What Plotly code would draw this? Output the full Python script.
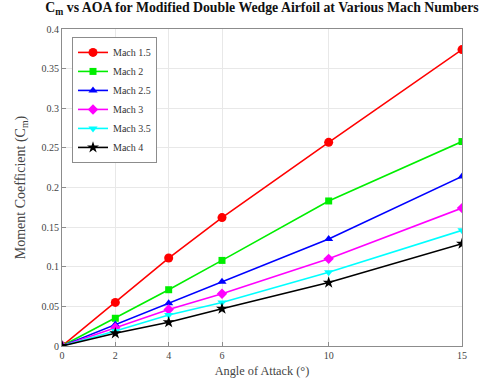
import plotly.graph_objects as go

# Angle of attack (degrees)
aoa = [0, 2, 4, 6, 10, 15]

# Moment coefficient per Mach number
cm_m15 = [0, 0.055, 0.111, 0.162, 0.257, 0.374]
cm_m20 = [0, 0.035, 0.071, 0.108, 0.183, 0.258]
cm_m25 = [0, 0.027, 0.054, 0.081, 0.135, 0.214]
cm_m30 = [0, 0.023, 0.046, 0.066, 0.110, 0.174]
cm_m35 = [0, 0.019, 0.039, 0.055, 0.093, 0.146]
cm_m40 = [0, 0.016, 0.030, 0.047, 0.080, 0.129]

series_names = ["Mach 1.5", "Mach 2", "Mach 2.5", "Mach 3", "Mach 3.5", "Mach 4"]
series_values = [cm_m15, cm_m20, cm_m25, cm_m30, cm_m35, cm_m40]
colors = ["#ff0000", "#00ee00", "#0000ff", "#ff00ff", "#00ffff", "#000000"]
symbols = ["circle", "square", "triangle-up", "diamond", "triangle-down", "star"]
sizes = [9, 7, 8, 8, 8, 9]

y_ticks = [0, 0.05, 0.1, 0.15, 0.2, 0.25, 0.3, 0.35, 0.4]
y_tick_text = ["0", "0.05", "0.1", "0.15", "0.2", "0.25", "0.3", "0.35", "0.4"]

FONT = "Liberation Serif, Times New Roman, serif"

fig = go.Figure()
for name, vals, col, sym, sz in zip(series_names, series_values, colors, symbols, sizes):
    fig.add_trace(go.Scatter(
        x=aoa, y=vals, name=name, mode="lines+markers",
        line=dict(color=col, width=1.6),
        marker=dict(symbol=sym, size=sz, color=col),
    ))

axis_common = dict(
    showline=True, linecolor="#8c8c8c", linewidth=1, mirror=True,
    showgrid=True, gridcolor="#e8e8e8", gridwidth=1,
    ticks="inside", ticklen=4, tickcolor="#8c8c8c",
    zeroline=False, automargin=False,
    tickfont=dict(family=FONT, size=10, color="#444444"),
)

fig.update_layout(
    width=479, height=385,
    margin=dict(l=62, r=17, t=29, b=39, autoexpand=False),
    paper_bgcolor="white", plot_bgcolor="white",
    font=dict(family=FONT, color="#222222"),
    title=dict(
        text="<b>C<sub>m</sub> vs AOA for Modified Double Wedge Airfoil at Various Mach Numbers</b>",
        font=dict(family=FONT, size=13.8, color="#111111"),
        x=0.547, xanchor="center", y=0.993, yanchor="top",
    ),
    xaxis=dict(
        range=[0, 15], tickvals=aoa, ticktext=[str(a) for a in aoa],
        title=dict(text="Angle of Attack (°)", font=dict(family=FONT, size=12.3, color="#444444"), standoff=6),
        **axis_common,
    ),
    yaxis=dict(
        range=[0, 0.4], tickvals=y_ticks, ticktext=y_tick_text,
        title=dict(text="Moment Coefficient (C<sub>m</sub>)", font=dict(family=FONT, size=14, color="#444444"), standoff=12),
        **axis_common,
    ),
    legend=dict(
        x=0.025, y=0.975, xanchor="left", yanchor="top",
        bgcolor="white", bordercolor="#8c8c8c", borderwidth=1,
        font=dict(family=FONT, size=10, color="#333333"),
        itemwidth=30, tracegroupgap=0,
    ),
)

fig.write_html("out.html")
